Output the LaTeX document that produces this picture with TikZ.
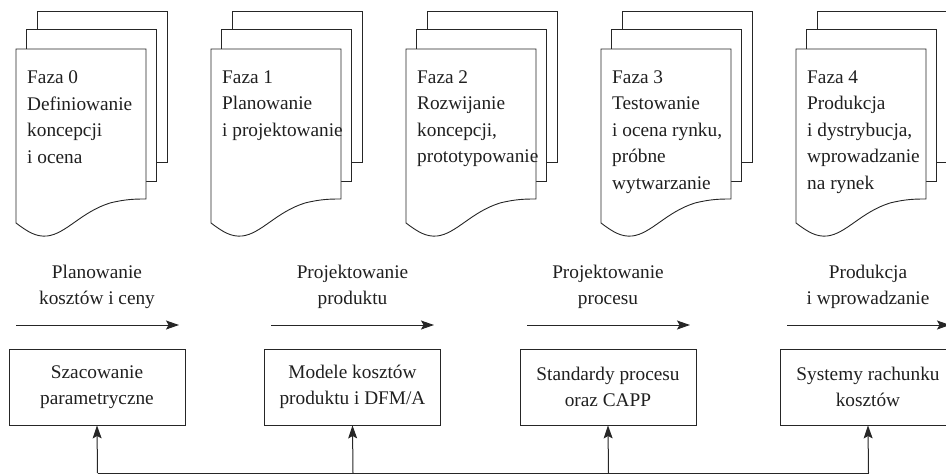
\documentclass[tikz,border=0pt]{standalone}
\usepackage{fontspec}
\setmainfont{Liberation Serif}
\usetikzlibrary{arrows.meta}

% three stacked sheets with a wavy bottom on the front one
\newcommand\docstack[3]{%
  \begin{scope}[xshift=#1pt]
    \draw[sheet] (21,11) rectangle (151,162);
    \draw[sheet] (10,29) rectangle (140,181);
    \draw[sheet] (0,223) -- (0,49) -- (130,49) -- (130,199)
      .. controls (120,199) and (110,199) .. (94,203)
      .. controls (65,212) and (50,234) .. (31,236)
      .. controls (20,237) and (12,232) .. (0,223) -- cycle;
    \node[sheettext] (#2) at (11,70.5) {#3};
  \end{scope}}

\begin{document}
\begin{tikzpicture}[x=1pt,y=-1pt,
  every node/.style={font=\fontsize{19.3}{26.5}\selectfont,text=black!88},
  sheet/.style={draw=black!85,fill=white,line width=0.9pt},
  sheettext/.style={anchor=north west,inner sep=0pt,align=left},
  flowlabel/.style={anchor=north,inner sep=0pt,align=center},
  toolbox/.style={draw=black!85,line width=0.9pt,minimum width=176pt,
    minimum height=76pt,inner sep=0pt,align=center},
  tip/.style={-{Stealth[length=13pt,width=9pt,inset=2.5pt]}},
  link/.style={draw=black!85,line width=1pt}]
\useasboundingbox (0,0) rectangle (946,475);
\clip (0,0) rectangle (946,475);

% phases
\docstack{16}{t0}{Faza 0\\Definiowanie\\koncepcji\\i ocena}
\docstack{211}{t1}{Faza 1\\Planowanie\\i projektowanie}
\docstack{406}{t2}{Faza 2\\Rozwijanie\\koncepcji,\\prototypowanie}
\docstack{601}{t3}{Faza 3\\Testowanie\\i ocena rynku,\\próbne\\wytwarzanie}
\docstack{796}{t4}{Faza 4\\Produkcja\\i dystrybucja,\\wprowadzanie\\na rynek}

% activity labels
\node[flowlabel] (l0) at (97,264.5) {Planowanie\\kosztów i ceny};
\node[flowlabel] (l1) at (352.5,264.5) {Projektowanie\\produktu};
\node[flowlabel] (l2) at (608,264.5) {Projektowanie\\procesu};
\node[flowlabel] (l3) at (868,264.5) {Produkcja\\i wprowadzanie};

% activity arrows
\coordinate (a0s) at (16,325);  \coordinate (a0e) at (179,325);
\coordinate (a1s) at (271,325); \coordinate (a1e) at (434,325);
\coordinate (a2s) at (527,325); \coordinate (a2e) at (690,325);
\coordinate (a3s) at (787,325); \coordinate (a3e) at (950,325);
\foreach \i in {0,1,2,3} \draw[link,tip] (a\i s) -- (a\i e);

% cost tools
\node[toolbox] (b0) at (97,387) {Szacowanie\\parametryczne};
\node[toolbox] (b1) at (352.5,387) {Modele kosztów\\produktu i DFM/A};
\node[toolbox] (b2) at (608,387) {Standardy procesu\\oraz CAPP};
\node[toolbox] (b3) at (868,387) {Systemy rachunku\\kosztów};

% feedback bus
\coordinate (f0) at (97.5,473);
\coordinate (f1) at (353,473);
\coordinate (f2) at (608.5,473);
\coordinate (f3) at (868.5,473);
\draw[link] (f0) -- (f3);
\foreach \i in {0,1,2,3} \draw[link,tip] (f\i) -- (b\i.south);
\end{tikzpicture}
\end{document}
